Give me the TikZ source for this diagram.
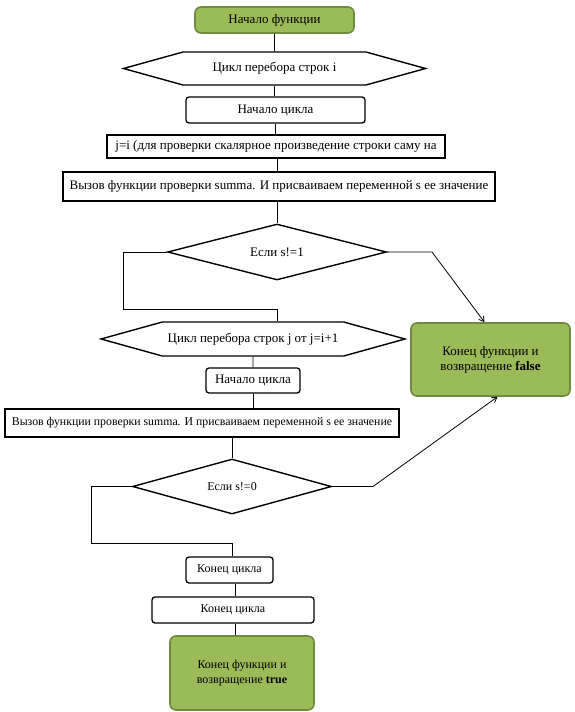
\documentclass[tikz,border=0pt]{standalone}
\usepackage{fontspec}
\setmainfont{Liberation Serif}
\usepackage{xcolor}
\usepackage{tikz}
\usetikzlibrary{arrows.meta,positioning,shapes.geometric,shapes.symbols}

\definecolor{olivefill}{HTML}{9BBB59}
\definecolor{oliveline}{HTML}{6E8B3D}

\begin{document}
\begin{tikzpicture}[
  x=1pt, y=-1pt,
  font=\fontsize{13}{15}\selectfont,
  small/.style={font=\fontsize{12}{15}\selectfont},
  termbox/.style={
    draw=oliveline, line width=1.6pt, rectangle, rounded corners=6pt,
    fill=olivefill, inner sep=0pt, align=center
  },
  loopbox/.style={
    draw, line width=1.3pt, rectangle, rounded corners=3pt,
    fill=white, inner sep=0pt
  },
  actbox/.style={
    draw, line width=1.8pt, rectangle, fill=white, inner sep=0pt
  },
  loophead/.style={
    draw, line width=1.4pt, signal, signal to=east and west,
    signal pointer angle=31, inner sep=0pt, fill=white
  },
  cond/.style={
    draw, line width=1.4pt, diamond, aspect=3.9, inner sep=0pt, fill=white
  },
  ln/.style={line width=0.8pt},
  arr/.style={line width=0.8pt, -{Straight Barb[length=5pt,width=6pt]}},
]
\useasboundingbox (0,0) rectangle (575,712);

%% ── Outer loop ───────────────────────────────────────────────────────────────
\node[termbox, minimum width=159, minimum height=26] (start) at (274.5,20)  {Начало функции};
\node[loophead, minimum width=302, minimum height=33] (hexi)  at (274.5,68.5) {Цикл перебора строк i};
\node[loopbox, minimum width=179, minimum height=26] (beg1)  at (275.5,110) {Начало цикла};
\node[actbox, minimum width=338, minimum height=23]  (jset)  at (276,146.5) {j=i (для проверки скалярное произведение строки саму на};
\node[actbox, minimum width=432, minimum height=29]  (call1) at (279,186.5) {Вызов функции проверки summa. И присваиваем переменной s ее значение};
\node[cond, minimum width=219, minimum height=56]    (if1)   at (277,252)   {Если s!=1};

%% ── Inner loop ───────────────────────────────────────────────────────────────
\node[loophead, minimum width=304, minimum height=34] (hexj)  at (253,339)   {Цикл перебора строк j от j=i+1};
\node[loopbox, minimum width=94, minimum height=25]  (beg2)  at (253,380.5) {Начало цикла};
\node[actbox, minimum width=394, minimum height=28, font=\fontsize{11.8}{14}\selectfont]
                                                     (call2) at (202,423)   {Вызов функции проверки summa. И присваиваем переменной s ее значение};
\node[cond, small, minimum width=199, minimum height=55] (if2) at (232,486.5) {Если s!=0};
\node[loopbox, small, minimum width=87, minimum height=26]  (end1) at (229.5,570) {Конец цикла};
\node[loopbox, small, minimum width=162, minimum height=26] (end2) at (233,610)   {Конец цикла};

%% ── Exits ────────────────────────────────────────────────────────────────────
\node[termbox, minimum width=159, minimum height=73] (false) at (490.5,359.5) {Конец функции и\\возвращение \textbf{false}};
\node[termbox, small, minimum width=144, minimum height=74] (true) at (242,673) {Конец функции и\\возвращение \textbf{true}};

\coordinate (l1) at (123,309);
\coordinate (r1) at (432,252);
\coordinate (l2) at (91,543);
\coordinate (r2) at (373,486.5);

%% ── Edges ───────────────────────────────────────────────────────────────────
\draw[ln] (start) -- (hexi);
\draw[ln] (hexi.south) -- (hexi.south |- beg1.north);
\draw[ln] (beg1.south) -- (beg1.south |- jset.north);
\draw[ln] (call1.north -| if1) -- (jset.south -| if1);
\draw[ln] (call1.south -| if1) -- (if1.north);
\draw[ln] (if1.west) -| (l1) -| (if1.south |- hexj.north);
\draw[arr] (if1.east) -- (r1) -- ([xshift=-6]false.north);
\draw[ln] (hexj)  -- (beg2);
\draw[ln] (beg2.south) -- (beg2.south |- call2.north);
\draw[ln] (call2.south -| if2) -- (if2.north);
\draw[arr] (if2.east) -- (r2) -- ([xshift=7]false.south);
\draw[ln] (if2.west) -| (l2) -| (end1.north -| if2);
\draw[ln] ([xshift=6]end1.south) -- ([xshift=6]end1.south |- end2.north);
\draw[ln] ([xshift=6]end1.south |- end2.south) -- ([xshift=6]end1.south |- true.north);

\end{tikzpicture}
\end{document}
